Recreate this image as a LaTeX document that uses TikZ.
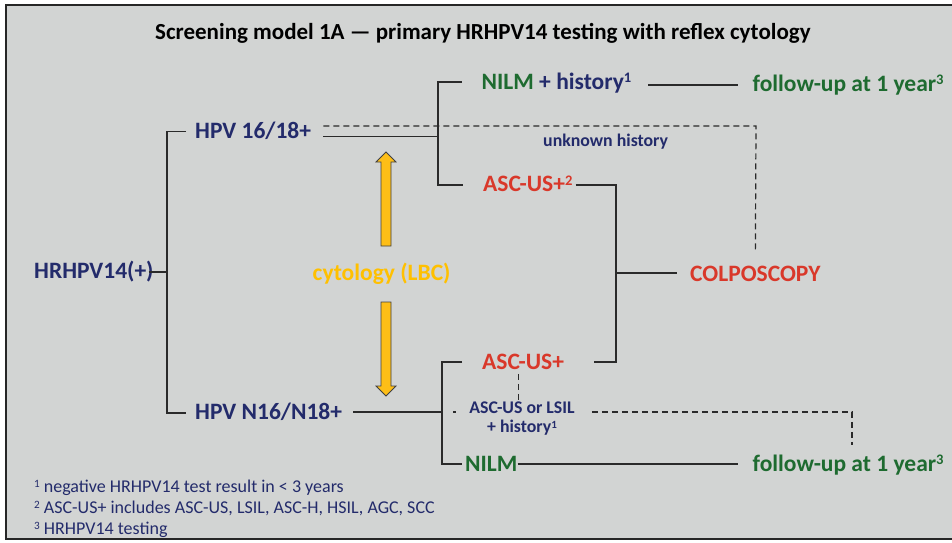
\documentclass[tikz,border=0pt]{standalone}
\usepackage{fontspec}
\setmainfont{Carlito}
\definecolor{navy}{HTML}{232B6B}
\definecolor{grn}{HTML}{1E6B30}
\definecolor{redc}{HTML}{D9382A}
\definecolor{gold}{HTML}{FFC000}
\definecolor{goldf}{HTML}{FDBE17}
\definecolor{bgc}{HTML}{D2D4D3}
\definecolor{linec}{HTML}{2A2A2A}
\newcommand\supx[1]{\raisebox{0.27em}{\scalebox{0.62}{#1}}}
\begin{document}
\begin{tikzpicture}[x=1pt,y=-1pt,
  lbl/.style={inner sep=0pt, anchor=base west, font=\fontsize{23.5}{28}\selectfont\bfseries},
  ttl/.style={inner sep=0pt, anchor=base west, font=\fontsize{23}{27}\selectfont\bfseries},
  sm/.style={inner sep=0pt, font=\fontsize{17.8}{20}\selectfont\bfseries, text=navy},
  fn/.style={inner sep=0pt, anchor=base west, font=\fontsize{18}{21}\selectfont, text=navy},
  conn/.style={line width=1.2pt, draw=linec},
  dsh/.style={conn, dash pattern=on 6pt off 4pt},
  arr/.style={fill=goldf, draw=black!75, line width=0.8pt, line join=miter}]
\useasboundingbox (0,0) rectangle (952,542);
\fill[white] (0,0) rectangle (952,542);
\draw[fill=bgc, line width=2pt, draw=black!85] (6,5) rectangle (975,539);

% texts
\node[ttl] (title) at (155,39) {Screening model 1A — primary HRHPV14 testing with reflex cytology};
\node[lbl, text=navy] (hr) at (34,278) {HRHPV14(+)};
\node[lbl, text=navy] (h1) at (195,138.5) {HPV 16/18+};
\node[lbl, text=navy] (h2) at (195,419.5) {HPV N16/N18+};
\node[lbl, text=gold] (cyt) at (312.5,280.5) {cytology (LBC)};
\node[lbl] (nilm1) at (481.5,89) {\textcolor{grn}{NILM} \textcolor{navy}{+ history\supx{1}}};
\node[lbl, text=grn] (fu1) at (752.5,91) {follow-up at 1 year\supx{3}};
\node[sm, anchor=base west] (unk) at (543,146) {unknown history};
\node[lbl, text=redc] (asc1) at (483,191.5) {ASC-US+\supx{2}};
\node[lbl, text=redc] (colp) at (690,281.5) {COLPOSCOPY};
\node[lbl, text=redc] (asc2) at (482,369.5) {ASC-US+};
\node[sm, align=center, anchor=center] (lsil) at (522,419) {ASC-US or LSIL\\[-1pt]+ history\supx{1}};
\node[lbl, text=grn] (nilm2) at (465,471) {NILM};
\node[lbl, text=grn] (fu2) at (752.5,471) {follow-up at 1 year\supx{3}};
\node[fn] (f1) at (34,492) {\supx{1} negative HRHPV14 test result in < 3 years};
\node[fn] (f2) at (34,513) {\supx{2} ASC-US+ includes ASC-US, LSIL, ASC-H, HSIL, AGC, SCC};
\node[fn] (f3) at (34,534) {\supx{3} HRHPV14 testing};

% junction coordinates
\coordinate (a0) at (167,272);
\coordinate (a1) at (167,131.5);
\coordinate (a2) at (167,413);
\coordinate (b0) at (438,82);
\coordinate (b1) at (438,136.5);
\coordinate (b2) at (438,185);
\coordinate (c1) at (756,126);
\coordinate (d1) at (700,85);
\coordinate (e0) at (616,273);
\coordinate (e1) at (616,185);
\coordinate (e2) at (616,362);
\coordinate (g0) at (442,362);
\coordinate (g1) at (442,412);
\coordinate (g2) at (442,464);
\coordinate (k1) at (852,412);
\coordinate (k2) at (852,445);

% connectors
\draw[conn] ([xshift=-5pt]hr.east |- a0) -- (a0);
\draw[conn] ([xshift=-9pt]h1.west |- a1) -- (a1) -- (a2) -- ([xshift=-9pt]h2.west |- a2);
\draw[conn] ([xshift=12pt]h1.east |- b1) -- (b1);
\draw[conn] ([xshift=-20pt]nilm1.west |- b0) -- (b0) -- (b2) -- ([xshift=-20pt]asc1.west |- b2);
\draw[dsh] ([xshift=12pt]h1.east |- c1) -- (c1) -- ([yshift=13pt]colp.north);
\draw[conn] ([xshift=17pt]nilm1.east |- d1) -- ([xshift=-15pt]fu1.west |- d1);
\draw[conn] ([xshift=3pt]asc1.east |- e1) -- (e1) -- (e2) -- ([xshift=30pt]asc2.east |- e2);
\draw[conn] (e0) -- ([xshift=-13pt]colp.west |- e0);
\draw[conn] ([xshift=-20pt]asc2.west |- g0) -- (g0) -- (g2) -- ([xshift=-3pt]nilm2.west |- g2);
\draw[conn] ([xshift=11pt]h2.east |- g1) -- (g1);
\draw[conn] ([xshift=11pt]g1) -- ([xshift=14pt]g1);
\draw[conn] (nilm2.east |- g2) -- ([xshift=-15pt]fu2.west |- g2);
\draw[dsh] ([xshift=-5pt,yshift=-4pt]asc2.south) -- ([xshift=-5pt,yshift=1pt]asc2.south |- lsil.north);
\draw[dsh] ([xshift=17pt]lsil.east |- k1) -- (k1) -- (k2);

% arrows
\draw[arr] (386,152) -- (396,162) -- (391,162) -- (391,246) -- (381,246) -- (381,162) -- (376,162) -- cycle;
\draw[arr] (381,302) -- (391,302) -- (391,386) -- (396,386) -- (386,396) -- (376,386) -- (381,386) -- cycle;
\end{tikzpicture}
\end{document}
